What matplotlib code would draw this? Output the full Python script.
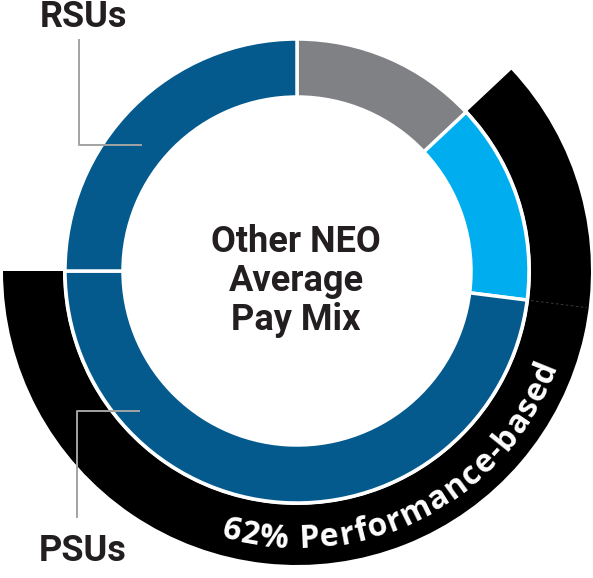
import matplotlib
matplotlib.use('Agg')
import matplotlib.pyplot as plt
from matplotlib.font_manager import FontProperties
import numpy as np

# pay mix, clockwise from 12 o'clock
components = ['Base salary', 'Annual incentive', 'PSUs', 'RSUs']
mix = [13, 14, 48, 25]
mix_colors = ['#808184', '#00AEEF', '#045A8D', '#045A8D']
perf_pct = 62
center_title = 'Other NEO\nAverage\nPay Mix'
perf_label = '%d%% Performance-based' % perf_pct

W, H = 593, 578
fig = plt.figure(figsize=(W / 100, H / 100), dpi=100)
ax = fig.add_axes([0, 0, 1, 1])

cx, cy = 297, H - 271


def py(y):
	# reference pixel row -> data y
	return H - y


# outer black band for the performance-based part
ax.pie([mix[0], perf_pct, 100 - mix[0] - perf_pct], radius=294, center=(cx, cy),
	startangle=90, counterclock=False, colors=['none', 'black', 'none'],
	wedgeprops=dict(width=60, linewidth=0))

# main ring
ax.pie(mix, radius=232, center=(cx, cy), startangle=90, counterclock=False,
	colors=mix_colors, wedgeprops=dict(width=58, edgecolor='white', linewidth=2.5))

# faint dashed seam in the black band
th = np.radians(360.0 * (mix[0] + mix[1]) / 100)
rr = np.array([236, 292])
ax.plot(cx + rr * np.sin(th), cy + rr * np.cos(th), ls=(0, (3, 3)), color='#444444', lw=0.6)

ax.set_xlim(0, W)
ax.set_ylim(0, H)
ax.set_aspect('equal')
ax.axis('off')

# centre title
ax.text(cx - 1, py(281), center_title, ha='center', va='center', fontsize=26,
	fontweight='bold', family='Roboto', linespacing=1.12, color='#231F20')

# callouts
line_c = '#A3A3A3'
ax.plot([79, 79, 141], [py(40), py(145), py(145)], color=line_c, lw=1.4, zorder=5)
ax.plot([77, 77, 139], [py(517), py(411), py(411)], color=line_c, lw=1.4, zorder=5)
ax.text(40, py(27), components[3], ha='left', va='baseline', fontsize=26,
	fontweight='bold', family='Roboto', color='#231F20')
ax.text(39, py(561), components[2], ha='left', va='baseline', fontsize=26,
	fontweight='bold', family='Roboto', color='#231F20')


def arc_text(s, r, th_start, th_end, fp, color):
	renderer = fig.canvas.get_renderer()

	def width(t):
		return renderer.get_text_width_height_descent(t, fp, ismath=False)[0]

	bar = width('|')
	edges = [0.0] + [width(s[:i] + '|') - bar for i in range(1, len(s) + 1)]
	centers = [(edges[i] + edges[i + 1]) / 2 for i in range(len(s))]
	total = edges[-1]
	arc = r * np.radians(th_start - th_end)
	extra = (arc - total) / (len(s) - 1)
	for i, ch in enumerate(s):
		if ch == ' ':
			continue
		pos = centers[i] + i * extra
		th = th_start - np.degrees(pos / r)
		t = np.radians(th)
		ax.text(cx + r * np.sin(t), cy + r * np.cos(t), ch, rotation=180 - th,
			rotation_mode='anchor', ha='center', va='baseline',
			fontproperties=fp, color=color, zorder=6)


fp = FontProperties(family='Open Sans', weight='bold', size=23)
arc_text(perf_label, 277, 196, 110, fp, 'white')

fig.savefig('out.png', dpi=100)
